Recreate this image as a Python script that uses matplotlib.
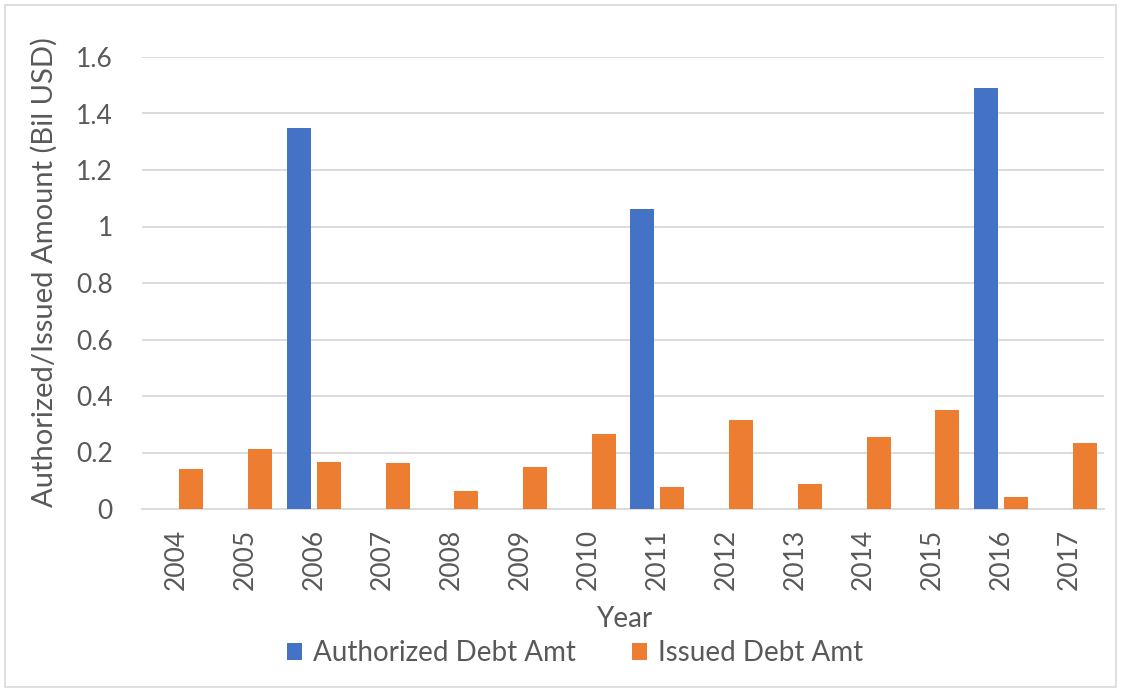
import numpy as np
import matplotlib.pyplot as plt
from matplotlib.patches import Rectangle

# Debt amounts per year (billions USD)
years = ["2004", "2005", "2006", "2007", "2008", "2009", "2010",
         "2011", "2012", "2013", "2014", "2015", "2016", "2017"]
authorized = [0, 0, 1.35, 0, 0, 0, 0, 1.061, 0, 0, 0, 0, 1.49, 0]
issued = [0.140, 0.213, 0.167, 0.164, 0.065, 0.150, 0.264,
          0.077, 0.315, 0.088, 0.256, 0.349, 0.044, 0.233]

BLUE = "#4472C4"
ORANGE = "#ED7D31"
TEXT = "#595959"
GRID = "#D9D9D9"

plt.rcParams["font.family"] = ["Lato", "DejaVu Sans"]

fig = plt.figure(figsize=(11.21, 6.92), dpi=100)
ax = fig.add_axes([142 / 1121, 1 - 509 / 692, 962 / 1121, 452 / 692])

x = np.arange(len(years))
w = 0.35
off = 0.22
ax.bar(x - off, authorized, width=w, color=BLUE, label="Authorized Debt Amt", zorder=3)
ax.bar(x + off, issued, width=w, color=ORANGE, label="Issued Debt Amt", zorder=3)

ax.set_xlim(-0.5, len(years) - 0.5)
ax.set_ylim(0, 1.6)
ax.set_yticks(np.arange(0, 1.61, 0.2))
ax.set_yticklabels(["0", "0.2", "0.4", "0.6", "0.8", "1", "1.2", "1.4", "1.6"])
ax.set_xticks(x)
ax.set_xticklabels(years, rotation=90)

ax.yaxis.grid(True, color=GRID, linewidth=1.3, zorder=0)
ax.tick_params(axis="both", length=0, labelsize=19, colors=TEXT)
ax.tick_params(axis="y", pad=21)
ax.tick_params(axis="x", pad=14)
for side in ["top", "right", "left"]:
    ax.spines[side].set_visible(False)
ax.spines["bottom"].set_color(GRID)
ax.spines["bottom"].set_linewidth(1.3)

ax.set_ylabel("Authorized/Issued Amount (Bil USD)", fontsize=21, color=TEXT)
ax.yaxis.set_label_coords((58 - 142) / 962, (509 - 272) / 452)
ax.set_xlabel("Year", fontsize=20, color=TEXT)
ax.xaxis.set_label_coords((624 - 142) / 962, -(606 - 509) / 452)

fig.legend(loc="center", bbox_to_anchor=(575 / 1121, 1 - 653 / 692), ncol=2,
           frameon=False, fontsize=20, labelcolor=TEXT, handlelength=0.55,
           handleheight=0.55, columnspacing=2.0, handletextpad=0.4)

# light frame around the chart area
fig.patches.append(Rectangle((5 / 1121, 5 / 692), 1111 / 1121, 682 / 692,
                             transform=fig.transFigure, fill=False,
                             edgecolor=GRID, linewidth=1.2))

fig.savefig("out.png", dpi=100)
